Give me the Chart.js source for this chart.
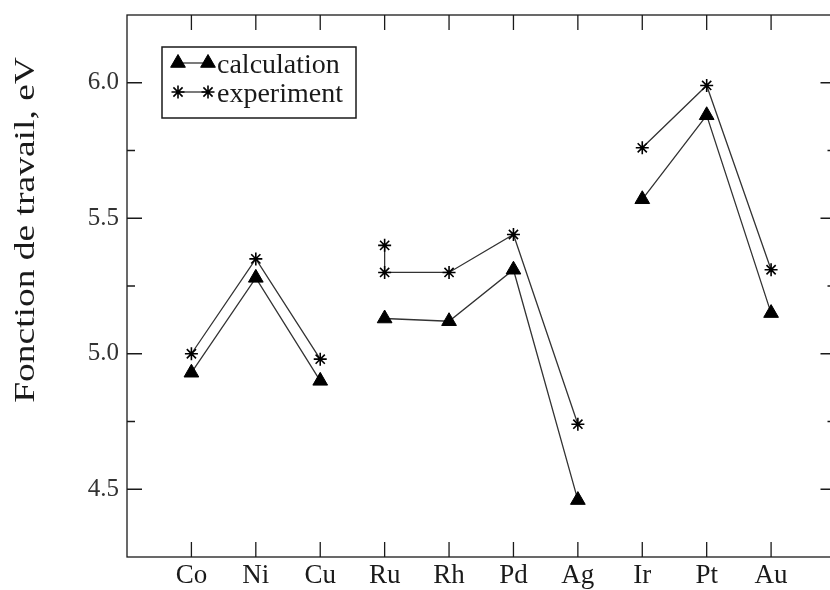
<!DOCTYPE html>
<html>
<head>
<meta charset="utf-8">
<script src="https://cdn.jsdelivr.net/npm/chart.js@4.4.1/dist/chart.umd.min.js"></script>
<style>
  html, body { margin: 0; padding: 0; background: #fff; overflow: hidden; }
  #wrap { width: 845px; height: 590px; }
</style>
</head>
<body>
<div id="wrap"><canvas id="workChart"></canvas></div>
<script>
// Data
const elements = ['Co', 'Ni', 'Cu', 'Ru', 'Rh', 'Pd', 'Ag', 'Ir', 'Pt', 'Au'];
const calculation = [4.93, 5.28, 4.90, 5.13, 5.12, 5.31, 4.46, 5.57, 5.88, 5.15];
const experiment = [5.00, 5.35, 4.98, 5.30, 5.30, 5.44, 4.74, 5.76, 5.99, 5.31];
const experimentRuExtra = 5.40;          // second measured value for Ru
const breakBefore = ['Ru', 'Ir'];        // lines are broken between groups
const yMin = 4.25, yMax = 6.25;
const yTitle = 'Fonction de travail, eV';

const SERIF = '"Liberation Serif", "DejaVu Serif", serif';
const INK = '#1a1a1a';

function buildPoints(values, extra) {
    const pts = [];
    values.forEach((v, i) => {
        const name = elements[i];
        if (breakBefore.includes(name)) pts.push({ x: i + 0.5, y: null });
        if (extra && extra[name] !== undefined) pts.push({ x: i + 1, y: extra[name] });
        pts.push({ x: i + 1, y: v });
    });
    return pts;
}

// inward ticks, frame, axis title and legend box
const framePlugin = {
    id: 'frame',
    afterDraw(chart) {
        const { ctx, chartArea: a, scales } = chart;
        ctx.save();
        ctx.strokeStyle = INK;
        ctx.lineWidth = 1.3;
        ctx.strokeRect(a.left, a.top, a.right - a.left, a.bottom - a.top);

        ctx.beginPath();
        scales.x.ticks.forEach(t => {
            if (t.value < 1 || t.value > elements.length) return;
            const px = scales.x.getPixelForValue(t.value);
            ctx.moveTo(px, a.bottom); ctx.lineTo(px, a.bottom - 15);
            ctx.moveTo(px, a.top); ctx.lineTo(px, a.top + 15);
        });
        scales.y.ticks.forEach(t => {
            const py = scales.y.getPixelForValue(t.value);
            if (Math.abs(py - a.top) < 1 || Math.abs(py - a.bottom) < 1) return;
            const len = Math.abs(t.value * 2 - Math.round(t.value * 2)) < 1e-6 ? 15 : 8;
            ctx.moveTo(a.left, py); ctx.lineTo(a.left + len, py);
            ctx.moveTo(a.right, py); ctx.lineTo(a.right - len, py);
        });
        ctx.stroke();

        // y axis title (tall serif, as in the scan)
        ctx.save();
        ctx.translate(26, 230);
        ctx.rotate(-Math.PI / 2);
        ctx.scale(1.25, 1);
        ctx.fillStyle = INK;
        ctx.font = '30px ' + SERIF;
        ctx.textAlign = 'center';
        ctx.textBaseline = 'middle';
        ctx.fillText(yTitle, 0, 0);
        ctx.restore();

        // legend
        const bx = 162, by = 47, bw = 194, bh = 71;
        ctx.strokeStyle = INK;
        ctx.lineWidth = 1.5;
        ctx.strokeRect(bx, by, bw, bh);
        chart.data.datasets.forEach((ds, i) => {
            const cy = by + 16 + i * 29;
            const x1 = bx + 16, x2 = bx + 46;
            ctx.strokeStyle = ds.borderColor;
            ctx.lineWidth = ds.borderWidth;
            ctx.beginPath(); ctx.moveTo(x1, cy); ctx.lineTo(x2, cy); ctx.stroke();
            const style = {
                pointStyle: ds.pointStyle, radius: ds.pointRadius,
                borderWidth: ds.pointBorderWidth, rotation: 0
            };
            ctx.fillStyle = ds.pointBackgroundColor;
            ctx.strokeStyle = ds.pointBorderColor;
            ctx.lineWidth = ds.pointBorderWidth;
            Chart.helpers.drawPoint(ctx, style, x1, cy);
            Chart.helpers.drawPoint(ctx, style, x2, cy);
            ctx.fillStyle = INK;
            ctx.font = '28px ' + SERIF;
            ctx.textBaseline = 'middle';
            ctx.fillText(ds.label, bx + 55, cy + 3);
        });
        ctx.restore();
    }
};

const ctx = document.getElementById('workChart').getContext('2d');
new Chart(ctx, {
    type: 'line',
    data: {
        datasets: [
            {
                label: 'calculation',
                data: buildPoints(calculation),
                borderColor: '#333',
                borderWidth: 1.3,
                pointStyle: 'triangle',
                pointRadius: 8.5,
                pointBackgroundColor: '#000',
                pointBorderColor: '#000',
                pointBorderWidth: 1,
                spanGaps: false,
                tension: 0
            },
            {
                label: 'experiment',
                data: buildPoints(experiment, { Ru: experimentRuExtra }),
                borderColor: '#333',
                borderWidth: 1.3,
                pointStyle: 'star',
                pointRadius: 6.5,
                pointBackgroundColor: '#000',
                pointBorderColor: '#000',
                pointBorderWidth: 1.6,
                spanGaps: false,
                tension: 0
            }
        ]
    },
    options: {
        responsive: true,
        maintainAspectRatio: false,
        animation: false,
        layout: { padding: { top: 15, right: 5, left: 0, bottom: 0 } },
        plugins: { legend: { display: false }, tooltip: { enabled: false } },
        scales: {
            x: {
                type: 'linear',
                min: 0,
                max: 11,
                grid: { display: false, drawTicks: false },
                border: { display: false },
                afterFit: s => { s.height = 33; s.paddingLeft = 0; s.paddingRight = 0; },
                ticks: {
                    stepSize: 1,
                    padding: 3,
                    color: INK,
                    font: { family: SERIF, size: 27 },
                    callback: v => elements[v - 1] || ''
                }
            },
            y: {
                min: yMin,
                max: yMax,
                grid: { display: false, drawTicks: false },
                border: { display: false },
                afterFit: s => { s.width = 127; s.paddingTop = 0; s.paddingBottom = 0; },
                ticks: {
                    stepSize: 0.25,
                    padding: 8,
                    color: '#333',
                    font: { family: SERIF, size: 25 },
                    callback: v => Math.abs(v * 2 - Math.round(v * 2)) < 1e-6 ? v.toFixed(1) : ''
                }
            }
        }
    },
    plugins: [framePlugin]
});
</script>
</body>
</html>
